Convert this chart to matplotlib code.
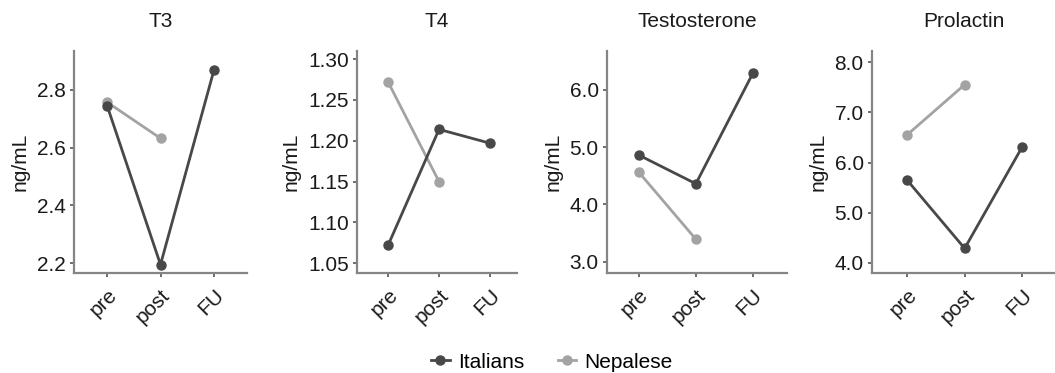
import matplotlib
matplotlib.use("Agg")
import matplotlib.pyplot as plt
from matplotlib.lines import Line2D

plt.rcParams["font.family"] = ["Liberation Sans", "DejaVu Sans"]

timepoints = ["pre", "post", "FU"]
titles = ["T3", "T4", "Testosterone", "Prolactin"]

italians = {
    "T3": [2.745, 2.195, 2.867],
    "T4": [1.072, 1.214, 1.197],
    "Testosterone": [4.86, 4.36, 6.29],
    "Prolactin": [5.65, 4.29, 6.31],
}
nepalese = {
    "T3": [2.757, 2.632],
    "T4": [1.272, 1.150],
    "Testosterone": [4.56, 3.39],
    "Prolactin": [6.55, 7.55],
}
yticks = {
    "T3": [2.2, 2.4, 2.6, 2.8],
    "T4": [1.05, 1.10, 1.15, 1.20, 1.25, 1.30],
    "Testosterone": [3.0, 4.0, 5.0, 6.0],
    "Prolactin": [4.0, 5.0, 6.0, 7.0, 8.0],
}
ytick_fmt = {"T3": "{:.1f}", "T4": "{:.2f}", "Testosterone": "{:.1f}", "Prolactin": "{:.1f}"}
ylims = {
    "T3": (2.166, 2.934),
    "T4": (1.038, 1.31),
    "Testosterone": (2.80, 6.68),
    "Prolactin": (3.80, 8.22),
}

W, H = 1055, 373
fig = plt.figure(figsize=(W / 100, H / 100), dpi=100)

# axes pixel boxes: left, right, xlim
boxes = [
    (74, 247, (-0.62, 2.62)),
    (357, 517, (-0.61, 2.53)),
    (607, 787, (-0.56, 2.6)),
    (872, 1055, (-0.61, 2.57)),
]
top_px, bot_px = 51, 273

c_it = "#484848"
c_ne = "#a3a3a3"
spine_c = "#858585"
txt_c = "#1a1a1a"
fs = 15

for (l, r, xl), name in zip(boxes, titles):
    ax = fig.add_axes([l / W, 1 - bot_px / H, (r - l) / W, (bot_px - top_px) / H])
    x = list(range(len(timepoints)))
    ax.plot(x[:len(nepalese[name])], nepalese[name], color=c_ne, lw=2, marker="o",
            ms=6.5, zorder=3)
    ax.plot(x, italians[name], color=c_it, lw=2, marker="o", ms=6.5, zorder=4)
    ax.set_xlim(*xl)
    ax.set_ylim(*ylims[name])
    ax.set_xticks(x)
    ax.set_xticklabels(timepoints, rotation=45, ha="right", rotation_mode="anchor",
                       fontsize=fs)
    ax.set_yticks(yticks[name])
    ax.set_yticklabels([ytick_fmt[name].format(v) for v in yticks[name]], fontsize=fs)
    for s in ["top", "right"]:
        ax.spines[s].set_visible(False)
    for s in ["left", "bottom"]:
        ax.spines[s].set_color(spine_c)
        ax.spines[s].set_linewidth(1.6)
    ax.tick_params(axis="both", length=3, width=1.2, color="#555555", colors=txt_c)
    ax.tick_params(axis="x", pad=6)
    ax.tick_params(axis="y", pad=3)
    ax.set_ylabel("ng/mL", fontsize=fs, color=txt_c, labelpad=5)
    ax.set_title(name, fontsize=fs, color=txt_c, pad=17)

handles = [
    Line2D([], [], color=c_it, marker="o", ms=6.5, lw=2),
    Line2D([], [], color=c_ne, marker="o", ms=6.5, lw=2),
]
fig.legend(handles, ["Italians", "Nepalese"], loc="center", bbox_to_anchor=(552 / W, 1 - 362 / H),
           ncol=2, frameon=False, fontsize=fs, handletextpad=0.4, columnspacing=1.6,
           handlelength=0.9)

fig.savefig("out.png", dpi=100)
